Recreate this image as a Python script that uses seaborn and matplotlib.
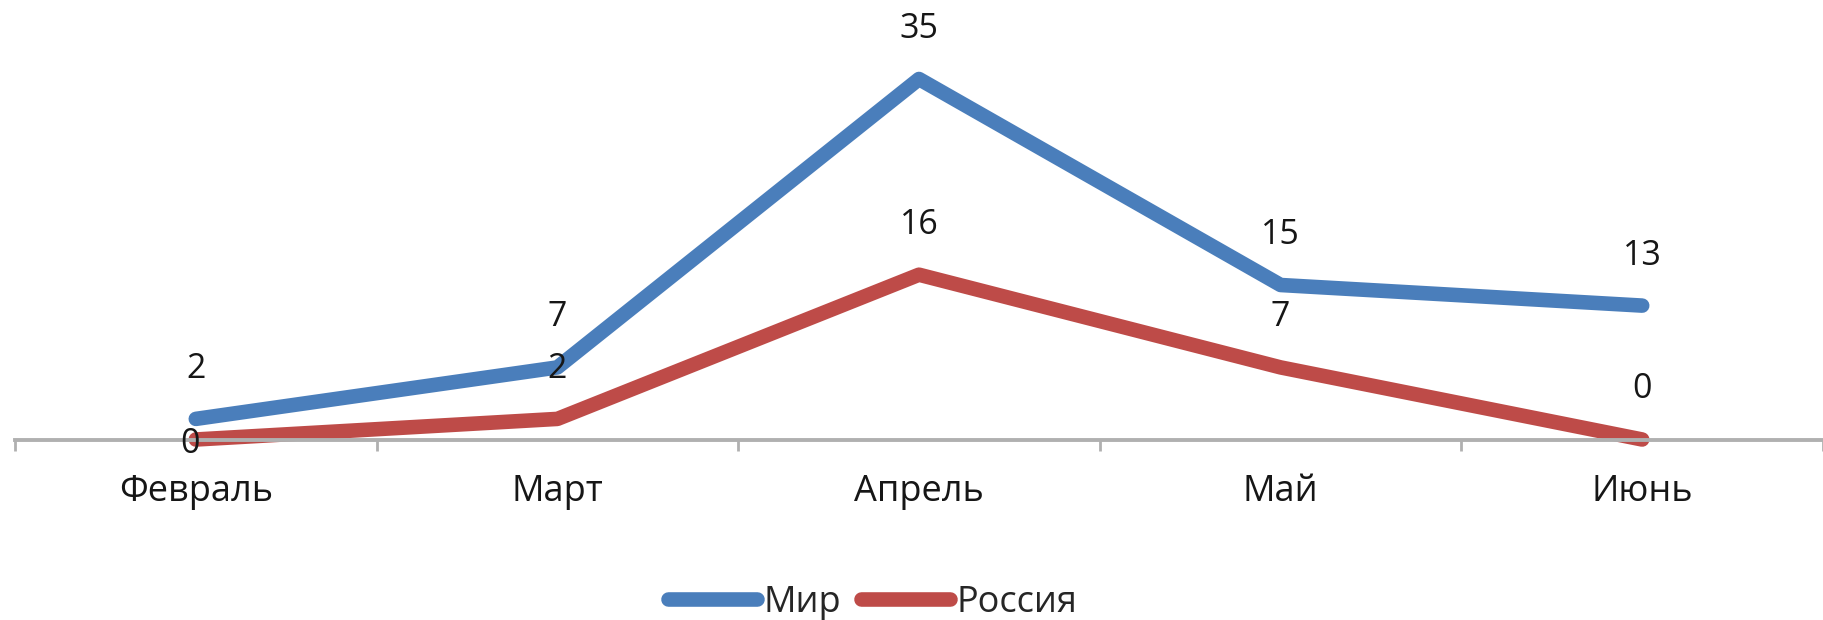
import matplotlib
matplotlib.use("Agg")
import matplotlib.pyplot as plt
from matplotlib.lines import Line2D
import seaborn as sns
import pandas as pd

months = ["Февраль", "Март", "Апрель", "Май", "Июнь"]
world = [2, 7, 35, 15, 13]
russia = [0, 2, 16, 7, 0]
series_names = ["Мир", "Россия"]
colors = ["#4A7EBB", "#BE4B48"]

sns.set_theme(style="white")
plt.rcParams["font.family"] = ["Open Sans", "DejaVu Sans"]

df = pd.DataFrame({
    "pos": list(range(len(months))) * 2,
    "value": world + russia,
    "series": [series_names[0]] * len(months) + [series_names[1]] * len(months),
})

fig = plt.figure(figsize=(18.23, 6.2), dpi=100)
ax = fig.add_axes([15 / 1823, 1 - 439.5 / 620, 1 - 15 / 1823, (439.5 - 27.5) / 620])

lw = 10.5
sns.lineplot(data=df, x="pos", y="value", hue="series", palette=colors,
             linewidth=lw, sort=False, ax=ax, legend=False)
for ln in ax.lines:
    ln.set_solid_capstyle("round")
    ln.set_solid_joinstyle("round")
    ln.set_clip_on(False)

ax.set_xlim(-0.5, 4.475)
ax.set_ylim(0, 40)

# value labels
fs_val = 24.5
fs = 26
txt = "#161616"
for i, v in enumerate(world):
    ax.annotate(str(v), (i, v), xytext=(0, 36), textcoords="offset points",
                ha="center", va="center", fontsize=fs_val, color=txt)
for i, v in enumerate(russia):
    off = (-4, -3) if i == 0 else (0, 36)
    ax.annotate(str(v), (i, v), xytext=off, textcoords="offset points",
                ha="center", va="center", fontsize=fs_val, color=txt)

# category axis: labels at centres, ticks between categories
ax.set_xticks(range(len(months)))
ax.set_xticklabels(months, fontsize=fs, color=txt)
ax.set_xticks([i - 0.5 for i in range(len(months) + 1)], minor=True)
ax.tick_params(axis="x", which="major", length=0, pad=25)
ax.tick_params(axis="x", which="minor", length=8, width=2, color="#B0B0B0",
               direction="out", bottom=True)
ax.set_yticks([])
ax.set_xlabel("")
ax.set_ylabel("")
for s in ["top", "right", "left"]:
    ax.spines[s].set_visible(False)
ax.spines["bottom"].set_color("#B0B0B0")
ax.spines["bottom"].set_linewidth(2.8)

# legend
handles = [Line2D([], [], color=c, linewidth=lw, solid_capstyle="round") for c in colors]
fig.legend(handles, series_names, loc="center", bbox_to_anchor=(873 / 1823, 1 - 603 / 620),
           ncol=2, frameon=False, fontsize=fs, handlelength=2.45, handletextpad=0.2,
           columnspacing=0.55, borderaxespad=0, borderpad=0)

fig.savefig("out.png", dpi=100)
